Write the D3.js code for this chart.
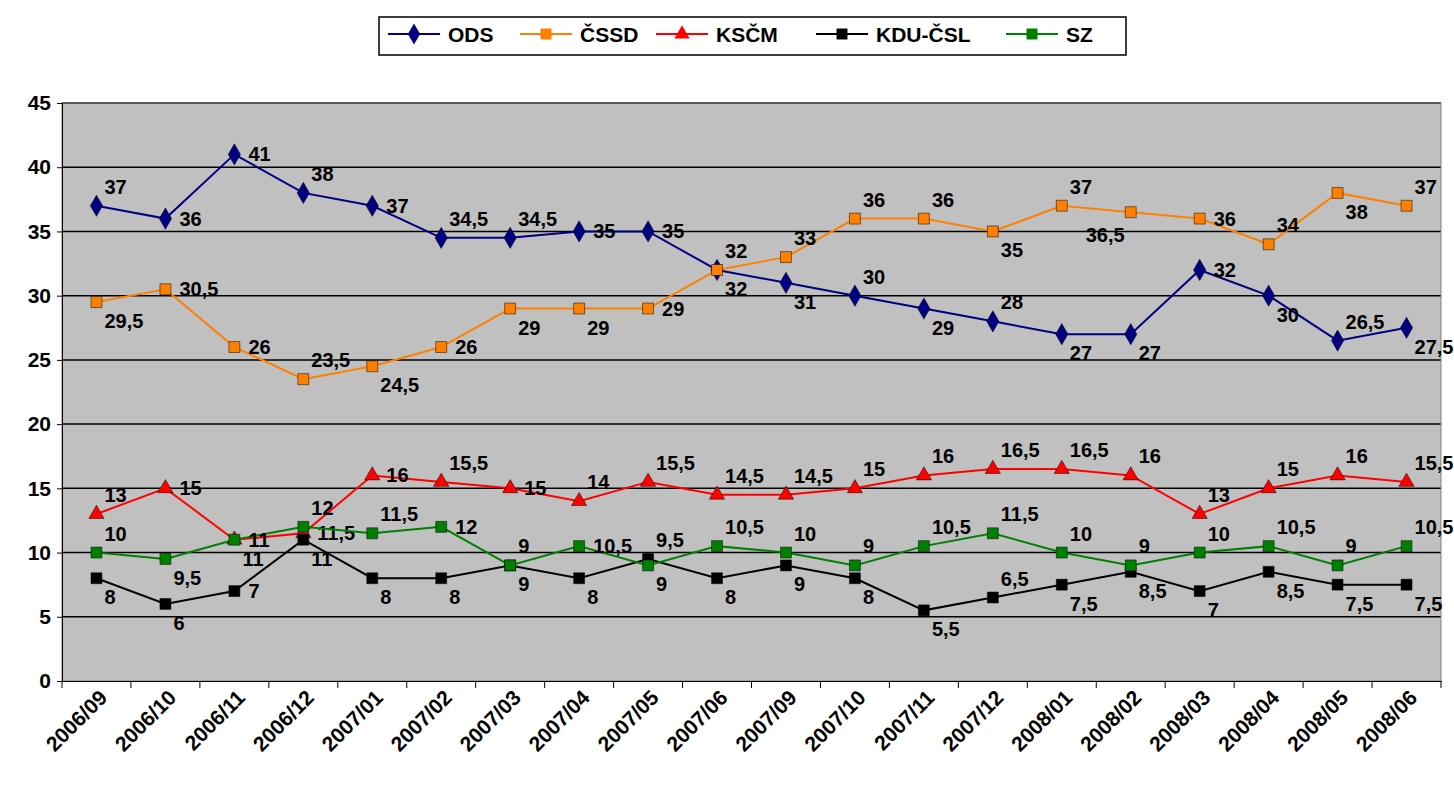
<!DOCTYPE html>
<html><head><meta charset="utf-8">
<script src="https://cdn.jsdelivr.net/npm/d3@7"></script>
<style>body{margin:0;background:#fff;font-family:"Liberation Sans",Arial,sans-serif;font-weight:bold}</style>
</head><body><svg id="c" width="1454" height="791"></svg>
<script>
const months = ["2006/09","2006/10","2006/11","2006/12","2007/01","2007/02","2007/03","2007/04","2007/05","2007/06","2007/09","2007/10","2007/11","2007/12","2008/01","2008/02","2008/03","2008/04","2008/05","2008/06"];
const ods  = [37,36,41,38,37,34.5,34.5,35,35,32,31,30,29,28,27,27,32,30,26.5,27.5];
const cssd = [29.5,30.5,26,23.5,24.5,26,29,29,29,32,33,36,36,35,37,36.5,36,34,38,37];
const kscm = [13,15,11,11.5,16,15.5,15,14,15.5,14.5,14.5,15,16,16.5,16.5,16,13,15,16,15.5];
const kdu  = [8,6,7,11,8,8,9,8,9.5,8,9,8,5.5,6.5,7.5,8.5,7,8.5,7.5,7.5];
const sz   = [10,9.5,11,12,11.5,12,9,10.5,9,10.5,10,9,10.5,11.5,10,9,10,10.5,9,10.5];
const yTicks = [0,5,10,15,20,25,30,35,40,45];

// label placement: u = above right, r = right, d = below right, l = below left
const series = [
  {name:"ODS", vals:ods, color:"#000080", sym:d3.symbolDiamond, size:130, place:"urruruurrddududdrdud"},
  {name:"ČSSD", vals:cssd, color:"#ff8000", sym:d3.symbolSquare, size:120, place:"drrudrddruuuudulrudu"},
  {name:"KSČM", vals:kscm, color:"#ff0000", sym:d3.symbolTriangle, size:100, place:"urdrruruuuuuuuuuuuuu"},
  {name:"KDU-ČSL", vals:kdu, color:"#000000", sym:d3.symbolSquare, size:120, place:"ddrdddddudddduddddddd"},
  {name:"SZ", vals:sz, color:"#008000", sym:d3.symbolSquare, size:120, place:"udruururduuuuuuuuuuu"}
];

const svg = d3.select("#c");
const m = {l:62, r:1441, t:103, b:681};
const x = d3.scaleBand().domain(months).range([m.l, m.r]);
const y = d3.scaleLinear().domain([0,45]).range([m.b, m.t]);

svg.append("rect").attr("x",m.l).attr("y",m.t).attr("width",m.r-m.l).attr("height",m.b-m.t)
  .attr("fill","#c0c0c0");
svg.append("g").selectAll("line").data(yTicks.slice(1)).join("line")
  .attr("x1",m.l).attr("x2",m.r).attr("y1",d=>y(d)).attr("y2",d=>y(d))
  .attr("stroke","#000").attr("stroke-width",1.5);
svg.append("rect").attr("x",m.l).attr("y",m.t).attr("width",m.r-m.l).attr("height",m.b-m.t)
  .attr("fill","none").attr("stroke","#808080");

const ya = svg.append("g").attr("transform",`translate(${m.l},0)`)
  .call(d3.axisLeft(y).tickValues(yTicks).tickSize(5).tickPadding(6));
ya.selectAll("text").attr("font-size",21).attr("font-weight","bold").attr("font-family","Liberation Sans").attr("fill","#000");
const xa = svg.append("g").attr("transform",`translate(0,${m.b})`)
  .call(d3.axisBottom(x).tickSize(0).tickFormat(""));
xa.selectAll("path,line").attr("stroke","#000");
ya.selectAll("path,line").attr("stroke","#000");
svg.append("g").selectAll("line").data(d3.range(months.length+1)).join("line")
  .attr("x1",i=>m.l+i*x.step()).attr("x2",i=>m.l+i*x.step()).attr("y1",m.b).attr("y2",m.b+7)
  .attr("stroke","#000");
svg.append("g").selectAll("text").data(months).join("text")
  .attr("transform",d=>`translate(${x(d)+x.bandwidth()/2+12},${m.b+18}) rotate(-45)`)
  .attr("text-anchor","end").attr("font-size",21).text(d=>d);

const cx = (d,i)=>x(months[i])+x.bandwidth()/2;
const line = d3.line().x((d,i)=>cx(d,i)).y(d=>y(d));
const dx = {u:8, r:14, d:8, l:-45};
const dy = {u:-12, r:7, d:26, l:30};
series.forEach(s=>{
  svg.append("path").datum(s.vals).attr("d",line).attr("fill","none")
    .attr("stroke",s.color).attr("stroke-width",2);
  svg.append("g").selectAll("path").data(s.vals).join("path")
    .attr("transform",(d,i)=>`translate(${cx(d,i)},${y(d)})`)
    .attr("d",d3.symbol(s.sym,s.size)()).attr("fill",s.color).attr("stroke","#000").attr("stroke-width",0.5);
  svg.append("g").selectAll("text").data(s.vals).join("text")
    .attr("x",(d,i)=>cx(d,i)+dx[s.place[i]])
    .attr("y",(d,i)=>y(d)+dy[s.place[i]])
    .attr("font-size",20).attr("fill","#000")
    .text(d=>String(d).replace(".",","));
});

// legend
const lg = svg.append("g");
lg.append("rect").attr("x",379).attr("y",17).attr("width",747).attr("height",38)
  .attr("fill","#fff").attr("stroke","#000").attr("stroke-width",1.5);
const lx = [388,520,656,816,1006];
series.forEach((s,i)=>{
  lg.append("line").attr("x1",lx[i]).attr("x2",lx[i]+52).attr("y1",34).attr("y2",34)
    .attr("stroke",s.color).attr("stroke-width",2);
  lg.append("path").attr("transform",`translate(${lx[i]+26},34)`)
    .attr("d",d3.symbol(s.sym,s.size)()).attr("fill",s.color);
  lg.append("text").attr("x",lx[i]+60).attr("y",42).attr("font-size",21).text(s.name);
});
</script></body></html>
